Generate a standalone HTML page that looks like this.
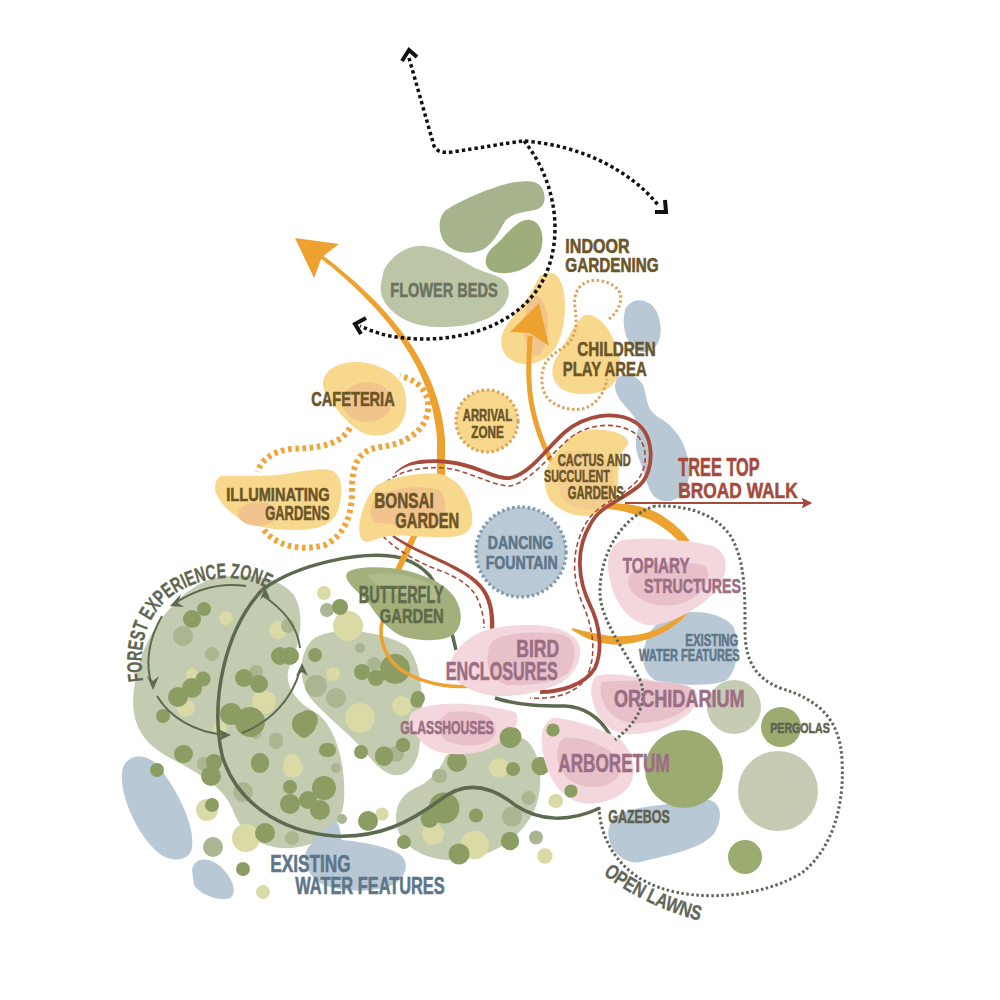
<!DOCTYPE html>
<html><head><meta charset="utf-8">
<style>
html,body{margin:0;padding:0;background:#fff;overflow:hidden;}
svg{display:block;}
text{font-family:"Liberation Sans",sans-serif;font-weight:bold;}
</style></head>
<body>
<svg width="1000" height="1000" viewBox="0 0 1000 1000">
<rect width="1000" height="1000" fill="#fff"/>
<g fill="#c3cbb0">
<path d="M 215 578 C 245 572 278 576 293 594 C 306 612 300 645 290 665 C 283 682 292 700 318 714 C 338 730 346 770 344 800 C 342 830 315 850 282 848 C 255 846 240 830 232 808 C 222 786 200 774 170 758 C 140 742 130 720 134 690 C 138 655 152 628 172 606 C 185 592 198 583 215 578 Z"/>
<path d="M 312 640 C 330 625 380 630 405 645 C 425 660 425 720 418 755 C 410 780 390 782 372 760 C 355 738 330 720 312 700 C 298 682 298 655 312 640 Z"/>
<path d="M 446 756 C 460 745 500 733 522 738 C 542 746 546 790 532 815 C 518 840 490 857 460 860 C 430 862 405 850 398 830 C 392 810 400 795 415 788 C 430 782 440 770 446 756 Z"/>
</g>
<g fill="#b8c8d5">
<path d="M 122 772 C 125 752 148 752 160 768 C 178 792 195 825 192 848 C 189 862 170 864 155 850 C 135 830 120 795 122 772 Z"/>
<path d="M 192 870 C 195 855 212 858 222 868 C 232 878 238 892 230 898 C 220 902 200 895 194 885 Z"/>
<path d="M 334 822 C 340 820 340 834 342 840 C 360 842 390 846 402 856 C 410 866 405 880 390 886 C 370 893 340 892 322 884 C 308 876 300 860 308 848 C 315 838 326 826 334 822 Z"/>
<path d="M 625 310 C 632 295 652 298 658 315 C 664 332 660 350 645 352 C 630 354 620 330 625 310 Z"/>
<path d="M 616 381 C 618 372 636 372 643 385 C 648 398 645 410 660 418 C 676 428 688 445 689 468 C 690 490 680 502 665 501 C 650 500 648 485 643 470 C 640 458 632 450 638 430 C 640 420 628 410 620 400 C 615 392 614 386 616 381 Z"/>
<path d="M 665 618 C 685 608 720 610 733 626 C 740 640 739 668 727 680 C 715 686 680 686 660 682 C 645 678 640 660 645 645 C 648 632 655 624 665 618 Z"/>
<path d="M 612 820 C 625 805 665 806 700 800 C 720 796 725 815 715 832 C 705 848 670 855 640 862 C 620 866 600 840 612 820 Z"/>
</g>
<circle cx="226" cy="618" r="7" fill="#d9daa5"/>
<circle cx="278" cy="630" r="9" fill="#d9daa5"/>
<circle cx="192" cy="674" r="6" fill="#d9daa5"/>
<circle cx="186" cy="708" r="9" fill="#d9daa5"/>
<circle cx="264" cy="702" r="12" fill="#d9daa5"/>
<circle cx="220" cy="728" r="7" fill="#d9daa5"/>
<circle cx="292" cy="762" r="8" fill="#d9daa5"/>
<circle cx="324" cy="593" r="7" fill="#d9daa5"/>
<circle cx="348" cy="626" r="15" fill="#d9daa5"/>
<circle cx="333" cy="674" r="7" fill="#d9daa5"/>
<circle cx="360" cy="718" r="15" fill="#d9daa5"/>
<circle cx="402" cy="706" r="10" fill="#d9daa5"/>
<circle cx="207" cy="810" r="11" fill="#d9daa5"/>
<circle cx="246" cy="838" r="14" fill="#d9daa5"/>
<circle cx="263" cy="892" r="7" fill="#d9daa5"/>
<circle cx="293" cy="768" r="10" fill="#d9daa5"/>
<circle cx="499" cy="768" r="10" fill="#d9daa5"/>
<circle cx="433" cy="834" r="11" fill="#d9daa5"/>
<circle cx="474.6" cy="845" r="14.3" fill="#d9daa5"/>
<circle cx="556" cy="801" r="7" fill="#d9daa5"/>
<circle cx="545" cy="856" r="7.7" fill="#d9daa5"/>
<circle cx="382" cy="814" r="6.6" fill="#d9daa5"/>
<circle cx="183" cy="636" r="10" fill="#aab592"/>
<circle cx="212" cy="654" r="7" fill="#aab592"/>
<circle cx="256" cy="672" r="7" fill="#aab592"/>
<circle cx="288" cy="626" r="7" fill="#aab592"/>
<circle cx="276" cy="740" r="7" fill="#aab592"/>
<circle cx="204" cy="764" r="7" fill="#aab592"/>
<circle cx="256" cy="734" r="5" fill="#aab592"/>
<circle cx="327" cy="610" r="7" fill="#aab592"/>
<circle cx="374" cy="664" r="7" fill="#aab592"/>
<circle cx="360" cy="648" r="5" fill="#aab592"/>
<circle cx="316" cy="686" r="11" fill="#aab592"/>
<circle cx="336" cy="698" r="10" fill="#aab592"/>
<circle cx="396" cy="754" r="8" fill="#aab592"/>
<circle cx="336" cy="768" r="5" fill="#aab592"/>
<circle cx="440" cy="776" r="7" fill="#aab592"/>
<circle cx="204" cy="764" r="7" fill="#aab592"/>
<circle cx="243" cy="792" r="10" fill="#aab592"/>
<circle cx="213" cy="847" r="10" fill="#aab592"/>
<circle cx="292" cy="838" r="7" fill="#aab592"/>
<circle cx="276" cy="742" r="7" fill="#aab592"/>
<circle cx="342" cy="819" r="5" fill="#aab592"/>
<circle cx="439" cy="776" r="7" fill="#aab592"/>
<circle cx="528.5" cy="798" r="7" fill="#aab592"/>
<circle cx="512" cy="816.6" r="10" fill="#aab592"/>
<circle cx="536" cy="837.5" r="7" fill="#aab592"/>
<circle cx="395" cy="754" r="7" fill="#aab592"/>
<circle cx="204" cy="609" r="7" fill="#8b9d63"/>
<circle cx="192" cy="619" r="9" fill="#8b9d63"/>
<circle cx="203" cy="679" r="7.6" fill="#8b9d63"/>
<circle cx="192" cy="688" r="10" fill="#8b9d63"/>
<circle cx="178" cy="697" r="10" fill="#8b9d63"/>
<circle cx="163" cy="716" r="7" fill="#8b9d63"/>
<circle cx="244" cy="678" r="9" fill="#8b9d63"/>
<circle cx="259" cy="684" r="9" fill="#8b9d63"/>
<circle cx="280" cy="656" r="9" fill="#8b9d63"/>
<circle cx="290" cy="656" r="9" fill="#8b9d63"/>
<circle cx="231" cy="714" r="11" fill="#8b9d63"/>
<circle cx="250" cy="722" r="15" fill="#8b9d63"/>
<circle cx="304" cy="724" r="12" fill="#8b9d63"/>
<circle cx="184" cy="754" r="9" fill="#8b9d63"/>
<circle cx="260" cy="762" r="9" fill="#8b9d63"/>
<circle cx="214" cy="762" r="8" fill="#8b9d63"/>
<circle cx="340" cy="607" r="8" fill="#8b9d63"/>
<circle cx="315" cy="655" r="7" fill="#8b9d63"/>
<circle cx="362" cy="672" r="8" fill="#8b9d63"/>
<circle cx="376" cy="678" r="8" fill="#8b9d63"/>
<circle cx="395" cy="669" r="15" fill="#8b9d63"/>
<circle cx="418" cy="698" r="7" fill="#8b9d63"/>
<circle cx="308" cy="720" r="10" fill="#8b9d63"/>
<circle cx="304" cy="732" r="6" fill="#8b9d63"/>
<circle cx="329" cy="750" r="7" fill="#8b9d63"/>
<circle cx="361" cy="752" r="7" fill="#8b9d63"/>
<circle cx="384" cy="757" r="9" fill="#8b9d63"/>
<circle cx="403" cy="745" r="7" fill="#8b9d63"/>
<circle cx="457" cy="761" r="9" fill="#8b9d63"/>
<circle cx="183" cy="754" r="9" fill="#8b9d63"/>
<circle cx="157" cy="770" r="7" fill="#8b9d63"/>
<circle cx="214" cy="764" r="7" fill="#8b9d63"/>
<circle cx="211" cy="776" r="10" fill="#8b9d63"/>
<circle cx="212" cy="805" r="7" fill="#8b9d63"/>
<circle cx="260" cy="764" r="9" fill="#8b9d63"/>
<circle cx="290" cy="787" r="7" fill="#8b9d63"/>
<circle cx="290" cy="804" r="10" fill="#8b9d63"/>
<circle cx="308" cy="800" r="9" fill="#8b9d63"/>
<circle cx="324" cy="788" r="12" fill="#8b9d63"/>
<circle cx="320" cy="810" r="10" fill="#8b9d63"/>
<circle cx="265" cy="833" r="10" fill="#8b9d63"/>
<circle cx="243" cy="869" r="7" fill="#8b9d63"/>
<circle cx="326" cy="750" r="7" fill="#8b9d63"/>
<circle cx="368" cy="821" r="10" fill="#8b9d63"/>
<circle cx="511" cy="737" r="10.5" fill="#8b9d63"/>
<circle cx="457" cy="762" r="10" fill="#8b9d63"/>
<circle cx="513" cy="769" r="7" fill="#8b9d63"/>
<circle cx="540.6" cy="766" r="9.2" fill="#8b9d63"/>
<circle cx="554" cy="731" r="7" fill="#8b9d63"/>
<circle cx="571" cy="791" r="7" fill="#8b9d63"/>
<circle cx="444" cy="808" r="15.4" fill="#8b9d63"/>
<circle cx="429.5" cy="819" r="8.8" fill="#8b9d63"/>
<circle cx="476" cy="815.5" r="7" fill="#8b9d63"/>
<circle cx="404" cy="842" r="7" fill="#8b9d63"/>
<circle cx="459" cy="854" r="10.5" fill="#8b9d63"/>
<circle cx="510" cy="841" r="9.2" fill="#8b9d63"/>
<circle cx="403" cy="745" r="7" fill="#8b9d63"/>
<circle cx="384" cy="755" r="8.8" fill="#8b9d63"/>
<circle cx="417" cy="701" r="6.6" fill="#8b9d63"/>
<g fill="none" stroke="#5d6a4f" stroke-width="3.5">
<path d="M 262 590 C 300 562 360 553 390 556 C 405 557 420 565 430 576 C 444 596 450 625 456 650"/>
<path d="M 495 698 C 520 706 545 706 565 706 C 585 707 600 718 610 735"/>
<path d="M 262 590 C 225 630 210 700 222 755 C 235 800 278 832 335 836 C 380 838 410 822 440 800 C 465 780 490 785 515 805 C 540 822 570 822 600 808"/>
</g>
<g fill="none" stroke="#eda12e" stroke-linecap="round">
<path stroke-width="6" d="M 416 532 L 398 570"/>
<path stroke-width="3.5" d="M 386 612 C 376 630 380 660 410 675 C 430 685 455 688 470 686"/>
</g>
<path fill="#eda12e" d="M 295 238 L 339 244 L 322 257 L 314 278 Z"/>
<path fill="#eda12e" d="M 316.9 255.4 L 321.9 259.3 L 326.8 263.2 L 331.6 267.1 L 336.3 271.1 L 341.0 275.1 L 345.6 279.1 L 350.1 283.2 L 354.5 287.3 L 358.9 291.5 L 363.2 295.7 L 367.3 299.9 L 371.4 304.2 L 375.4 308.5 L 379.3 312.8 L 383.1 317.2 L 386.8 321.6 L 390.3 326.1 L 393.8 330.6 L 397.2 335.1 L 400.4 339.7 L 403.5 344.3 L 406.5 348.9 L 409.4 353.6 L 412.2 358.4 L 414.8 363.1 L 417.3 368.0 L 419.6 372.8 L 421.9 377.8 L 423.9 382.7 L 425.9 387.7 L 427.7 392.7 L 429.3 397.8 L 430.8 403.0 L 432.2 408.2 L 433.4 413.4 L 434.4 418.7 L 435.3 424.0 L 436.1 429.4 L 436.6 434.8 L 437.0 440.3 L 445.0 439.7 L 444.5 434.0 L 443.8 428.4 L 442.9 422.8 L 441.9 417.2 L 440.7 411.8 L 439.3 406.3 L 437.8 401.0 L 436.1 395.7 L 434.3 390.4 L 432.3 385.2 L 430.2 380.1 L 427.9 375.0 L 425.5 370.0 L 423.0 365.0 L 420.3 360.1 L 417.5 355.3 L 414.6 350.5 L 411.6 345.7 L 408.4 341.0 L 405.1 336.3 L 401.7 331.7 L 398.2 327.2 L 394.6 322.7 L 390.8 318.2 L 387.0 313.8 L 383.1 309.4 L 379.0 305.1 L 374.9 300.8 L 370.7 296.6 L 366.4 292.4 L 362.0 288.2 L 357.5 284.1 L 353.0 280.0 L 348.3 276.0 L 343.6 272.0 L 338.9 268.1 L 334.0 264.1 L 329.1 260.3 L 324.1 256.4 L 319.1 252.6 Z"/>
<path fill="none" stroke="#eda12e" stroke-width="8" d="M 441 438 L 441 478"/>
<path fill="#eda12e" d="M 600 502 C 615 503 630 504 638 506 C 650 509 660 513 667 519 C 676 525 683 532 690 541 L 680 543 C 675 537 668 531 662 527 C 655 522 647 518 638 515.5 C 628 512 618 510 608 509 Z"/>
<path fill="#eda12e" d="M 572 628 C 580 630 588 632 595.5 633.6 C 605 635.5 613 636.5 621 636.2 C 630 636 640 634.5 646.5 632.8 C 655 630 662 627 667 624 C 675 620 682 615 690 609 C 685 617 680 622 672 627 C 665 632 655 637 646.5 639.6 C 638 642 630 644 621 644.7 C 612 645 603 643.5 595.5 641.3 C 587 639 580 635 572 630 Z"/>
<path fill="#a7b38c" d="M 446 210 C 465 198 490 188 510 183 C 525 180 538 180 542 188 C 547 198 545 208 535 210 C 522 212 512 214 506 220 C 500 228 497 240 484 249 C 473 255 455 254 446 244 C 438 234 437 218 446 210 Z"/>
<path fill="#9dad7c" d="M 520 222 C 535 214 545 228 542 245 C 540 262 520 275 500 273 C 483 272 482 258 492 248 C 502 240 508 230 520 222 Z"/>
<path fill="#bdc5a7" d="M 384 270 C 392 254 410 244 425 246 C 445 249 460 260 475 268 C 488 274 505 276 508 286 C 512 300 500 314 484 320 C 465 328 430 330 410 322 C 390 314 378 298 381 284 C 382 278 383 273 384 270 Z"/>
<circle cx="684" cy="769" r="39" fill="#9cab70"/>
<circle cx="778" cy="791" r="40" fill="#c5cbb2"/>
<circle cx="781" cy="727" r="20" fill="#9cab70"/>
<circle cx="734" cy="707" r="27" fill="#c6ccb3"/>
<circle cx="745" cy="857" r="17" fill="#9cab70"/>
<g fill="#f8d88c">
<path d="M 324 378 C 328 366 345 361 360 362 C 378 364 395 372 402 384 C 409 398 407 415 400 425 C 393 434 380 438 366 434 C 355 430 345 420 336 408 C 328 398 320 388 324 378 Z"/>
<path d="M 221 476 C 240 475 265 477 285 474 C 305 471 322 467 333 471 C 344 477 343 500 336 515 C 328 528 310 530 295 530 C 275 530 258 528 240 519 C 225 510 214 495 215 486 C 216 480 218 477 221 476 Z"/>
<path d="M 540 276 C 555 265 566 280 565 310 C 563 340 555 360 530 364 C 505 366 495 345 505 328 C 515 312 528 300 532 290 Z"/>
<path d="M 585 315 C 600 312 615 335 620 360 C 622 385 605 395 580 394 C 555 393 548 375 555 360 C 565 345 575 320 585 315 Z"/>
</g>
<g fill="#f1c48e">
<ellipse cx="367" cy="402" rx="25" ry="20"/>
<ellipse cx="258" cy="514" rx="20" ry="12"/>
<ellipse cx="536" cy="326" rx="12" ry="30"/>
</g>
<circle cx="487" cy="421" r="31" fill="#f8d88c" stroke="#dba65c" stroke-width="3.2" stroke-dasharray="2.6 2.6"/>
<circle cx="521" cy="552" r="45" fill="#b9c9d6" stroke="#7f98ab" stroke-width="3.4" stroke-dasharray="2.5 2.7"/>
<path fill="none" stroke="#eda12e" stroke-width="5" d="M 552 462 C 540 440 530 410 529 380 C 528 360 530 345 530 336"/>
<path fill="#eda12e" d="M 539 303 L 549 346 L 530 333 L 510 332 Z"/>
<path fill="#f8d88c" d="M 572 436 C 580 430 595 428 610 431 C 620 433 630 438 628 444 C 625 450 619 452 619 462 C 618 475 619 490 615 500 C 610 510 598 516 586 516 C 572 516 558 510 550 500 C 544 490 544 478 546 470 C 550 460 562 445 572 436 Z"/>
<path fill="#f3cd8e" d="M 565 452 C 580 448 605 452 612 465 C 616 480 612 500 600 508 C 585 512 570 508 562 498 C 556 485 556 465 565 452 Z"/>
<g fill="none" stroke="#a64a3c">
<path stroke-width="3.8" d="M 420 462 C 430 461 440 461 448 462 C 475 464 495 480 510 478 C 530 474 545 450 565 432 C 585 415 615 410 635 422 C 655 435 655 470 640 485 C 620 502 600 505 590 525 C 575 550 578 580 590 605 C 600 625 603 650 595 668 C 585 685 560 692 540 692"/>
</g><path fill="#a64a3c" d="M 392.3 537.0 L 394.0 538.2 L 395.7 539.4 L 397.4 540.5 L 399.2 541.6 L 400.9 542.8 L 402.7 543.8 L 404.6 544.9 L 406.4 545.9 L 408.3 547.0 L 410.2 548.0 L 412.1 549.0 L 414.0 549.9 L 415.9 550.9 L 417.9 551.9 L 419.8 552.8 L 421.8 553.8 L 423.8 554.7 L 425.8 555.6 L 427.8 556.6 L 429.8 557.5 L 431.8 558.4 L 433.8 559.4 L 435.8 560.3 L 437.8 561.2 L 439.8 562.2 L 441.8 563.2 L 443.8 564.1 L 445.8 565.1 L 447.8 566.1 L 449.8 567.1 L 451.7 568.2 L 453.7 569.2 L 455.7 570.3 L 457.6 571.4 L 459.6 572.5 L 461.5 573.6 L 463.4 574.8 L 465.3 576.0 L 467.1 577.2 L 469.0 578.5 L 471.0 575.5 L 469.1 574.2 L 467.2 573.0 L 465.2 571.8 L 463.3 570.7 L 461.3 569.5 L 459.3 568.4 L 457.3 567.3 L 455.3 566.3 L 453.3 565.2 L 451.3 564.2 L 449.2 563.2 L 447.2 562.2 L 445.2 561.2 L 443.2 560.3 L 441.1 559.3 L 439.1 558.4 L 437.1 557.5 L 435.0 556.6 L 433.0 555.7 L 431.0 554.8 L 429.0 553.9 L 427.0 553.0 L 425.0 552.1 L 423.0 551.1 L 421.0 550.2 L 419.1 549.3 L 417.2 548.4 L 415.2 547.5 L 413.3 546.5 L 411.4 545.6 L 409.5 544.6 L 407.7 543.6 L 405.9 542.6 L 404.0 541.6 L 402.3 540.6 L 400.5 539.5 L 398.8 538.4 L 397.0 537.3 L 395.4 536.2 L 393.7 535.0 Z"/><path fill="#a64a3c" d="M 468.9 578.5 L 470.2 579.4 L 471.5 580.4 L 472.7 581.4 L 473.8 582.4 L 474.9 583.4 L 475.9 584.4 L 476.9 585.4 L 477.9 586.4 L 478.8 587.4 L 479.7 588.5 L 480.5 589.6 L 481.3 590.6 L 482.1 591.7 L 482.8 592.9 L 483.4 594.0 L 484.1 595.1 L 484.7 596.3 L 485.2 597.5 L 485.7 598.7 L 486.2 600.0 L 486.7 601.3 L 487.1 602.6 L 487.5 603.9 L 487.9 605.2 L 488.2 606.6 L 488.5 608.1 L 488.8 609.5 L 489.0 611.0 L 489.2 612.5 L 489.4 614.1 L 489.5 615.7 L 489.7 617.3 L 489.8 619.0 L 489.8 620.7 L 489.9 622.5 L 489.9 624.3 L 489.9 626.1 L 489.9 628.0 L 489.8 629.9 L 489.8 631.9 L 494.2 632.1 L 494.3 630.1 L 494.3 628.1 L 494.3 626.1 L 494.3 624.2 L 494.3 622.4 L 494.2 620.5 L 494.1 618.8 L 494.0 617.0 L 493.8 615.3 L 493.6 613.6 L 493.4 612.0 L 493.2 610.3 L 492.9 608.8 L 492.6 607.2 L 492.3 605.7 L 491.9 604.2 L 491.5 602.7 L 491.0 601.3 L 490.5 599.9 L 490.0 598.5 L 489.5 597.2 L 488.9 595.8 L 488.2 594.5 L 487.6 593.3 L 486.8 592.0 L 486.1 590.8 L 485.3 589.6 L 484.5 588.4 L 483.6 587.2 L 482.7 586.1 L 481.7 584.9 L 480.7 583.8 L 479.6 582.8 L 478.5 581.7 L 477.4 580.6 L 476.2 579.6 L 475.0 578.6 L 473.7 577.5 L 472.4 576.5 L 471.1 575.5 Z"/><g fill="none" stroke="#a64a3c">

</g>
<path fill="#a64a3c" d="M 395.3 473.4 L 395.9 473.0 L 396.4 472.6 L 397.0 472.2 L 397.5 471.8 L 398.1 471.4 L 398.6 471.0 L 399.2 470.6 L 399.8 470.3 L 400.4 469.9 L 400.9 469.6 L 401.5 469.3 L 402.1 469.0 L 402.7 468.6 L 403.3 468.3 L 403.9 468.0 L 404.5 467.8 L 405.1 467.5 L 405.7 467.2 L 406.4 467.0 L 407.0 466.7 L 407.6 466.5 L 408.3 466.3 L 408.9 466.0 L 409.6 465.8 L 410.2 465.6 L 410.9 465.5 L 411.6 465.3 L 412.3 465.1 L 413.0 464.9 L 413.7 464.8 L 414.4 464.7 L 415.1 464.5 L 415.8 464.4 L 416.6 464.3 L 417.3 464.2 L 418.1 464.1 L 418.8 464.1 L 419.6 464.0 L 420.4 463.9 L 421.2 463.9 L 420.8 460.1 L 420.0 460.2 L 419.2 460.4 L 418.3 460.5 L 417.5 460.6 L 416.7 460.8 L 415.9 461.0 L 415.2 461.2 L 414.4 461.4 L 413.6 461.6 L 412.9 461.8 L 412.2 462.0 L 411.4 462.3 L 410.7 462.5 L 410.0 462.8 L 409.3 463.0 L 408.7 463.3 L 408.0 463.6 L 407.3 463.9 L 406.7 464.2 L 406.0 464.5 L 405.4 464.9 L 404.7 465.2 L 404.1 465.5 L 403.5 465.9 L 402.9 466.2 L 402.3 466.6 L 401.7 467.0 L 401.1 467.4 L 400.6 467.8 L 400.0 468.2 L 399.4 468.6 L 398.9 469.0 L 398.3 469.4 L 397.8 469.9 L 397.3 470.3 L 396.7 470.8 L 396.2 471.2 L 395.7 471.7 L 395.2 472.1 L 394.7 472.6 Z"/>
<path fill="#a64a3c" d="M 812 503 L 802 498 L 804 503 L 802 508 Z"/>
<g fill="none" stroke="#a64a3c" stroke-width="1.6" stroke-dasharray="5 3">
<path d="M 386 482 C 398 472 420 466 445 468 C 470 471 492 486 510 486 C 530 482 550 455 570 438 C 588 424 614 421 633 432 C 648 442 649 466 637 481 C 622 497 600 503 588 520 C 570 548 572 580 583 605 C 592 625 596 650 590 668"/>
<path d="M 383 536 C 392 546 412 560 436 569 C 455 576 472 585 478 600 C 483 612 484 620 484 628"/>
<path d="M 590 668 C 585 690 560 700 530 698"/>
</g>
<path fill="#f8d88c" d="M 375 487 C 385 478 420 472 440 474 C 458 478 470 495 472 515 C 474 528 468 536 450 537 C 425 538 400 534 388 536 C 375 538 368 545 362 540 C 356 532 360 505 375 487 Z"/>
<path fill="#f1c48e" d="M 375 500 C 385 488 420 484 440 490 C 448 500 446 520 440 525 C 420 528 395 526 375 522 C 368 514 370 506 375 500 Z"/>
<path fill="#a3b07c" d="M 348 572 C 355 566 385 566 404 570 C 420 574 440 580 452 594 C 462 606 465 625 453 635 C 442 642 420 641 404 637 C 390 632 378 618 370 605 C 362 594 340 580 348 572 Z"/>
<path fill="#b0bb8c" d="M 368 575 C 385 570 420 575 440 590 C 448 600 430 602 410 598 C 390 594 372 585 368 575 Z"/>
<g fill="#f3d7dd">
<path d="M 622 540 C 650 536 690 540 712 546 C 728 552 730 570 718 588 C 705 605 680 620 655 625 C 635 628 618 608 612 588 C 606 568 605 548 622 540 Z"/>
<path d="M 470 638 C 485 628 505 625 530 625 C 550 625 570 630 578 642 C 584 655 577 672 562 682 C 545 692 515 697 496 696 C 478 695 458 685 451 675 C 446 665 455 648 470 638 Z"/>
<path d="M 596 676 C 610 672 635 676 650 680 C 668 682 688 684 695 690 C 700 698 697 710 680 720 C 665 730 645 735 625 734 C 610 732 598 720 594 705 C 590 695 590 682 596 676 Z"/>
<path d="M 413 712 C 430 700 480 702 515 712 C 525 722 505 745 480 752 C 450 758 430 752 420 740 C 410 728 405 718 413 712 Z"/>
<path d="M 553 718 C 570 718 600 728 618 738 C 632 748 638 770 630 785 C 622 798 600 806 582 803 C 566 800 552 785 546 765 C 540 748 538 725 553 718 Z"/>
</g>
<g fill="#e7c0ca">
<path d="M 640 568 C 660 560 695 562 705 566 C 712 572 708 590 690 600 C 670 610 645 606 632 592 C 625 582 628 572 640 568 Z"/>
<path d="M 503 636 C 520 632 550 631 566 636 C 578 642 576 662 568 673 C 555 683 530 686 507 685 C 490 680 484 665 489 648 C 492 640 497 638 503 636 Z"/>
<path d="M 603 682 C 620 680 660 680 688 686 C 694 692 694 702 685 710 C 672 720 650 724 630 723 C 615 720 604 710 601 695 C 600 688 600 684 603 682 Z"/>
<path d="M 450 712 C 475 710 500 715 495 735 C 490 748 460 748 445 740 C 435 730 438 716 450 712 Z"/>
<path d="M 565 738 C 585 736 612 748 620 762 C 624 778 610 788 590 787 C 570 786 556 770 557 752 C 558 744 560 740 565 738 Z"/>
</g>
<circle cx="553" cy="730" r="6.6" fill="#8b9d63"/><circle cx="571" cy="791" r="6.6" fill="#8b9d63"/><circle cx="555" cy="801" r="6.6" fill="#d9daa5"/><circle cx="510" cy="737.6" r="10.5" fill="#8b9d63"/>
<g fill="none" stroke="#a64a3c">
<path stroke-width="2" d="M 625 503 L 806 503"/>
</g>
<path fill="#a64a3c" d="M 812 503 L 802 498 L 804 503 L 802 508 Z"/>
<g fill="none" stroke="#5d6a4f" stroke-width="2">
<path d="M 246 586 C 220 582 195 590 175 603"/>
<path d="M 162 616 C 148 640 145 665 152 685"/>
<path d="M 157 696 C 170 718 195 732 225 735"/>
<path d="M 242 733 C 270 722 292 700 300 670"/>
<path d="M 300 648 C 298 630 288 612 262 595"/>
</g>
<g fill="#5d6a4f">
<path d="M 170 606 L 181 594 L 178 603 L 184 607 Z"/>
<path d="M 153 690 L 147 676 L 153 681 L 159 676 Z"/>
<path d="M 231 735 L 218 741 L 222 735 L 218 729 Z"/>
<path d="M 302 663 L 296 676 L 302 672 L 308 676 Z"/>
<path d="M 265 587 L 260 600 L 264 596 L 270 599 Z"/>
</g>
<g fill="none" stroke="#eea63c" stroke-width="6" stroke-dasharray="3.6 3.6">
<path d="M 350 428 C 340 445 320 448 290 449 C 270 452 260 462 258 472"/>
<path d="M 264 530 C 275 545 300 552 325 545 C 345 535 352 515 352 490 C 352 465 358 450 380 447 C 405 444 425 432 428 410 C 430 392 418 380 400 376"/>
</g>
<path fill="none" stroke="#dba35c" stroke-width="3" stroke-dasharray="2.5 2.5" d="M 609 319 C 618 312 624 300 619 291 C 613 282 598 279 590 281 C 578 284 573 295 575 307 C 576 318 578 328 571 340 C 566 348 553 352 546 362 C 540 372 541 388 546 396 C 553 406 568 411 582 409 C 596 406 605 392 607 379"/>
<path fill="none" stroke="#5f665a" stroke-width="3" stroke-dasharray="2.5 2.5" d="M 655 506 C 625 515 600 550 600 592 C 600 620 625 650 640 680 C 648 700 640 720 615 740 M 599 807 C 600 840 620 875 661 888 C 700 902 765 897 803 872 C 830 850 845 810 842 760 C 840 720 820 700 780 688 C 755 678 745 660 745 630 C 745 590 745 560 730 535 C 715 515 690 505 655 506"/>
<g fill="none" stroke="#111" stroke-width="3.5" stroke-dasharray="3.4 3"> 
<path d="M 409 58 L 434 146 C 437 152 443 153 452 152 C 480 148 505 143 524 141 C 580 145 630 170 658 205"/>
<path d="M 524 141 C 560 185 565 250 537 290 C 505 335 440 345 390 336 C 375 333 365 328 360 326"/>
</g>
<g fill="#111">
</g><g fill="none" stroke="#111" stroke-width="4" stroke-linejoin="miter">
<path d="M 402 61 L 409 50 L 417 57"/>
<path d="M 655 212 L 666 212 L 665 200"/>
<path d="M 366 318 L 355 324 L 361 334"/>
</g>
<text x="390.3" y="297.2" font-size="20.93" fill="#6c735c" stroke="#6c735c" stroke-width="0.6" textLength="107.4" lengthAdjust="spacingAndGlyphs">FLOWER BEDS</text>
<text x="565.3" y="252.7" font-size="19.77" fill="#6b5529" stroke="#6b5529" stroke-width="0.6" textLength="64.4" lengthAdjust="spacingAndGlyphs">INDOOR</text>
<text x="565.3" y="271.7" font-size="19.77" fill="#6b5529" stroke="#6b5529" stroke-width="0.6" textLength="93.4" lengthAdjust="spacingAndGlyphs">GARDENING</text>
<text x="577.3" y="356.2" font-size="20.93" fill="#6b5529" stroke="#6b5529" stroke-width="0.6" textLength="78.4" lengthAdjust="spacingAndGlyphs">CHILDREN</text>
<text x="562.8" y="375.7" font-size="20.93" fill="#6b5529" stroke="#6b5529" stroke-width="0.6" textLength="83.9" lengthAdjust="spacingAndGlyphs">PLAY AREA</text>
<text x="311.3" y="405.7" font-size="20.93" fill="#6b5529" stroke="#6b5529" stroke-width="0.6" textLength="83.4" lengthAdjust="spacingAndGlyphs">CAFETERIA</text>
<text x="462.8" y="421.2" font-size="17.30" fill="#6b5529" stroke="#6b5529" stroke-width="0.6" textLength="49.4" lengthAdjust="spacingAndGlyphs">ARRIVAL</text>
<text x="471.3" y="437.7" font-size="16.57" fill="#6b5529" stroke="#6b5529" stroke-width="0.6" textLength="32.4" lengthAdjust="spacingAndGlyphs">ZONE</text>
<text x="226.3" y="500.7" font-size="18.75" fill="#6b5529" stroke="#6b5529" stroke-width="0.6" textLength="103.4" lengthAdjust="spacingAndGlyphs">ILLUMINATING</text>
<text x="265.3" y="519.7" font-size="19.48" fill="#6b5529" stroke="#6b5529" stroke-width="0.6" textLength="64.4" lengthAdjust="spacingAndGlyphs">GARDENS</text>
<text x="374.3" y="507.7" font-size="22.38" fill="#6b5529" stroke="#6b5529" stroke-width="0.6" textLength="59.4" lengthAdjust="spacingAndGlyphs">BONSAI</text>
<text x="395.3" y="527.7" font-size="22.38" fill="#6b5529" stroke="#6b5529" stroke-width="0.6" textLength="63.9" lengthAdjust="spacingAndGlyphs">GARDEN</text>
<text x="557.8" y="465.7" font-size="17.30" fill="#6b5529" stroke="#6b5529" stroke-width="0.6" textLength="72.9" lengthAdjust="spacingAndGlyphs">CACTUS AND</text>
<text x="544.05" y="482.2" font-size="17.30" fill="#6b5529" stroke="#6b5529" stroke-width="0.6" textLength="65.65" lengthAdjust="spacingAndGlyphs">SUCCULENT</text>
<text x="567.8" y="498.7" font-size="18.02" fill="#6b5529" stroke="#6b5529" stroke-width="0.6" textLength="55.9" lengthAdjust="spacingAndGlyphs">GARDENS</text>
<text x="678.3" y="475.7" font-size="25.29" fill="#a64a3c" stroke="#a64a3c" stroke-width="0.6" textLength="81.4" lengthAdjust="spacingAndGlyphs">TREE TOP</text>
<text x="678.3" y="497.7" font-size="22.38" fill="#a64a3c" stroke="#a64a3c" stroke-width="0.6" textLength="119.4" lengthAdjust="spacingAndGlyphs">BROAD WALK</text>
<text x="487.8" y="549.2" font-size="18.75" fill="#5d7689" stroke="#5d7689" stroke-width="0.6" textLength="65.4" lengthAdjust="spacingAndGlyphs">DANCING</text>
<text x="485.7" y="568.7" font-size="18.75" fill="#5d7689" stroke="#5d7689" stroke-width="0.6" textLength="72.00000000000003" lengthAdjust="spacingAndGlyphs">FOUNTAIN</text>
<text x="622.8" y="573.45" font-size="22.38" fill="#9c6e84" stroke="#9c6e84" stroke-width="0.6" textLength="66.9" lengthAdjust="spacingAndGlyphs">TOPIARY</text>
<text x="644.05" y="593.45" font-size="20.93" fill="#9c6e84" stroke="#9c6e84" stroke-width="0.6" textLength="96.9" lengthAdjust="spacingAndGlyphs">STRUCTURES</text>
<text x="685.3" y="645.95" font-size="17.30" fill="#5d7689" stroke="#5d7689" stroke-width="0.6" textLength="53.15" lengthAdjust="spacingAndGlyphs">EXISTING</text>
<text x="639.05" y="660.95" font-size="17.30" fill="#5d7689" stroke="#5d7689" stroke-width="0.6" textLength="100.65" lengthAdjust="spacingAndGlyphs">WATER FEATURES</text>
<text x="614.05" y="707.2" font-size="24.56" fill="#9c6e84" stroke="#9c6e84" stroke-width="0.6" textLength="130.65" lengthAdjust="spacingAndGlyphs">ORCHIDARIUM</text>
<text x="358.8" y="603.2" font-size="23.11" fill="#5f6a4a" stroke="#5f6a4a" stroke-width="0.6" textLength="84.9" lengthAdjust="spacingAndGlyphs">BUTTERFLY</text>
<text x="379.8" y="622.7" font-size="20.93" fill="#5f6a4a" stroke="#5f6a4a" stroke-width="0.6" textLength="63.9" lengthAdjust="spacingAndGlyphs">GARDEN</text>
<text x="516.3" y="657.2" font-size="23.11" fill="#9c6e84" stroke="#9c6e84" stroke-width="0.6" textLength="42.9" lengthAdjust="spacingAndGlyphs">BIRD</text>
<text x="445.8" y="679.7" font-size="25.29" fill="#9c6e84" stroke="#9c6e84" stroke-width="0.6" textLength="111.9" lengthAdjust="spacingAndGlyphs">ENCLOSURES</text>
<text x="400.3" y="733.7" font-size="18.02" fill="#9c6e84" stroke="#9c6e84" stroke-width="0.6" textLength="93.4" lengthAdjust="spacingAndGlyphs">GLASSHOUSES</text>
<text x="558.3" y="771.7" font-size="25.29" fill="#9c6e84" stroke="#9c6e84" stroke-width="0.6" textLength="111.4" lengthAdjust="spacingAndGlyphs">ARBORETUM</text>
<text x="608.3" y="822.7" font-size="18.75" fill="#5e6350" stroke="#5e6350" stroke-width="0.6" textLength="61.4" lengthAdjust="spacingAndGlyphs">GAZEBOS</text>
<text x="770.3" y="732.7" font-size="15.12" fill="#5e6350" stroke="#5e6350" stroke-width="0.6" textLength="59.4" lengthAdjust="spacingAndGlyphs">PERGOLAS</text>
<text x="270.3" y="872.2" font-size="24.56" fill="#5d7689" stroke="#5d7689" stroke-width="0.6" textLength="80.4" lengthAdjust="spacingAndGlyphs">EXISTING</text>
<path id="fzp" d="M 143 681 C 137 640 150 605 185 588 C 212 575 245 573 273 592" fill="none"/><text font-size="21" fill="#5f6652" stroke="#5f6652" stroke-width="0.3"><textPath href="#fzp" textLength="196" lengthAdjust="spacingAndGlyphs">FOREST EXPERIENCE ZONE</textPath></text>
<path id="olp" d="M 603 874 Q 643 906 704 922" fill="none"/><text font-size="20.5" fill="#60675a" stroke="#60675a" stroke-width="0.3"><textPath href="#olp" textLength="108" lengthAdjust="spacingAndGlyphs">OPEN LAWNS</textPath></text>
<text x="295.3" y="893.7" font-size="23.84" fill="#5d7689" stroke="#5d7689" stroke-width="0.6" textLength="149.4" lengthAdjust="spacingAndGlyphs">WATER FEATURES</text>
</svg>
</body></html>
